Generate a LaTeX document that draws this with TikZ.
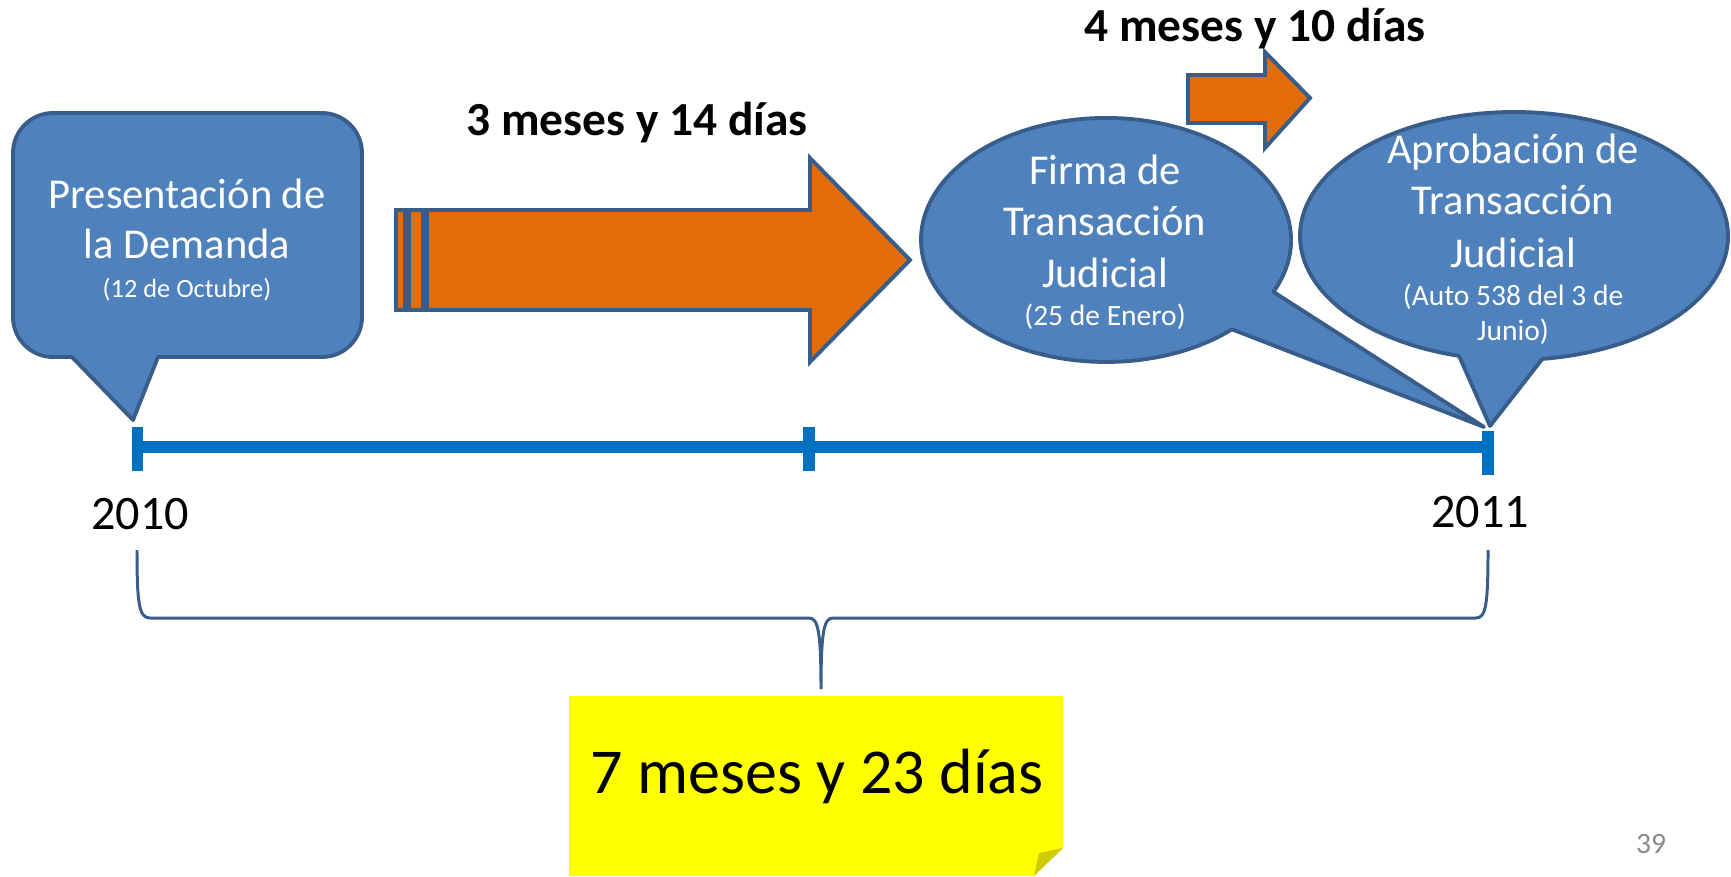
\documentclass[tikz,border=0pt]{standalone}
\usepackage{fontspec}
\setmainfont{Carlito}
\definecolor{boxblue}{RGB}{79,129,189}
\definecolor{edgeblue}{RGB}{56,93,138}
\definecolor{arroworange}{RGB}{227,108,10}
\definecolor{lineblue}{RGB}{0,112,192}
\definecolor{noteyellow}{RGB}{255,255,0}
\definecolor{foldyellow}{RGB}{204,204,0}
\definecolor{pagegray}{RGB}{137,137,137}

\begin{document}
\begin{tikzpicture}[x=0.1mm,y=0.1mm,
  bubble/.style={fill=boxblue,draw=edgeblue,line width=1.1pt,line join=round},
  fatarrow/.style={fill=arroworange,draw=edgeblue,line width=1.1pt},
  txt/.style={anchor=base,inner sep=0pt},
  bubbletext/.style={txt,text=white,font=\fontsize{12.1}{14}\selectfont},
  datetext/.style={txt,text=white,font=\fontsize{8.4}{10}\selectfont},
  spantext/.style={txt,font=\bfseries\fontsize{13.5}{15}\selectfont},
  yeartext/.style={txt,font=\fontsize{13.7}{15}\selectfont}]
  \useasboundingbox (0,0) rectangle (1731,876);

  % callout of the demand
  \draw[bubble] (72,519) -- (53,519) arc[start angle=270,end angle=180,radius=4mm]
    -- (13,723) arc[start angle=180,end angle=90,radius=4mm]
    -- (322,763) arc[start angle=90,end angle=0,radius=4mm]
    -- (362,559) arc[start angle=0,end angle=-90,radius=4mm]
    -- (158,519) -- (133,456) -- cycle;
  \node[bubbletext] (dem1) at (187,668) {Presentación de};
  \node[bubbletext] (dem2) at (187,618) {la Demanda};
  \node[datetext, font=\fontsize{7.5}{9}\selectfont] (dem3) at (187,579) {(12 de Octubre)};

  % big arrow
  \draw[fatarrow] (396,566) rectangle (405,666);
  \draw[fatarrow] (409,566) rectangle (423,666);
  \draw[fatarrow] (427,566) -- (810,566) -- (810,514) -- (910,616) -- (810,718) -- (810,666) -- (427,666) -- cycle;
  \node[spantext] (span1) at (637,740) {3 meses y 14 días};

  % small arrow
  \draw[fatarrow] (1188,753) -- (1265,753) -- (1265,728) -- (1310,778) -- (1265,824) -- (1265,801) -- (1188,801) -- cycle;
  \node[spantext] (span2) at (1255,834) {4 meses y 10 días};

  % balloon of the signature
  \draw[bubble] (1273.4,584.1) arc[start angle=-25.2,end angle=312.9,x radius=18.5mm,y radius=12.2mm] -- (1484,449) -- cycle;
  \node[bubbletext] (firma1) at (1105,691) {Firma de};
  \node[bubbletext] (firma2) at (1105,641) {Transacción};
  \node[bubbletext] (firma3) at (1105,589) {Judicial};
  \node[datetext] (firma4) at (1105,551) {(25 de Enero)};

  % balloon of the approval
  \draw[bubble] (1542.3,517.1) arc[start angle=-82.4,end angle=255.1,x radius=21.4mm,y radius=12.4mm] -- (1490,450) -- cycle;
  \node[bubbletext] (apro1) at (1513,713) {Aprobación de};
  \node[bubbletext] (apro2) at (1513,661) {Transacción};
  \node[bubbletext] (apro3) at (1513,609) {Judicial};
  \node[datetext] (apro4) at (1513,571) {(Auto 538 del 3 de};
  \node[datetext] (apro5) at (1513,536) {Junio)};

  % timeline
  \draw[lineblue,line width=1.2mm] (143,429) -- (1482,429);
  \fill[lineblue] (132,405) rectangle (143,449);
  \fill[lineblue] (803,405) rectangle (815,449);
  \fill[lineblue] (1482,401) rectangle (1494,445);
  \node[yeartext] (y2010) at (140,347) {2010};
  \node[yeartext] (y2011) at (1480,349) {2011};

  % brace
  \draw[edgeblue,line width=0.85pt] (137,326) .. controls (137,272) and (139,258) .. (150,258)
    -- (809,258) .. controls (818,258) and (821,245) .. (821,187)
    .. controls (821,245) and (824,258) .. (833,258)
    -- (1476,258) .. controls (1486,258) and (1488,272) .. (1488,326);

  % total
  \fill[noteyellow] (569,180) -- (1063,180) -- (1063,28) -- (1034,0) -- (569,0) -- cycle;
  \fill[foldyellow] (1063,28) -- (1039,23) -- (1034,0) -- cycle;
  \node[txt,font=\fontsize{18.2}{20}\selectfont] (total) at (817,83) {7 meses y 23 días};
  \node[txt,text=pagegray,font=\fontsize{8.4}{10}\selectfont] (page) at (1651,23) {39};
\end{tikzpicture}
\end{document}
